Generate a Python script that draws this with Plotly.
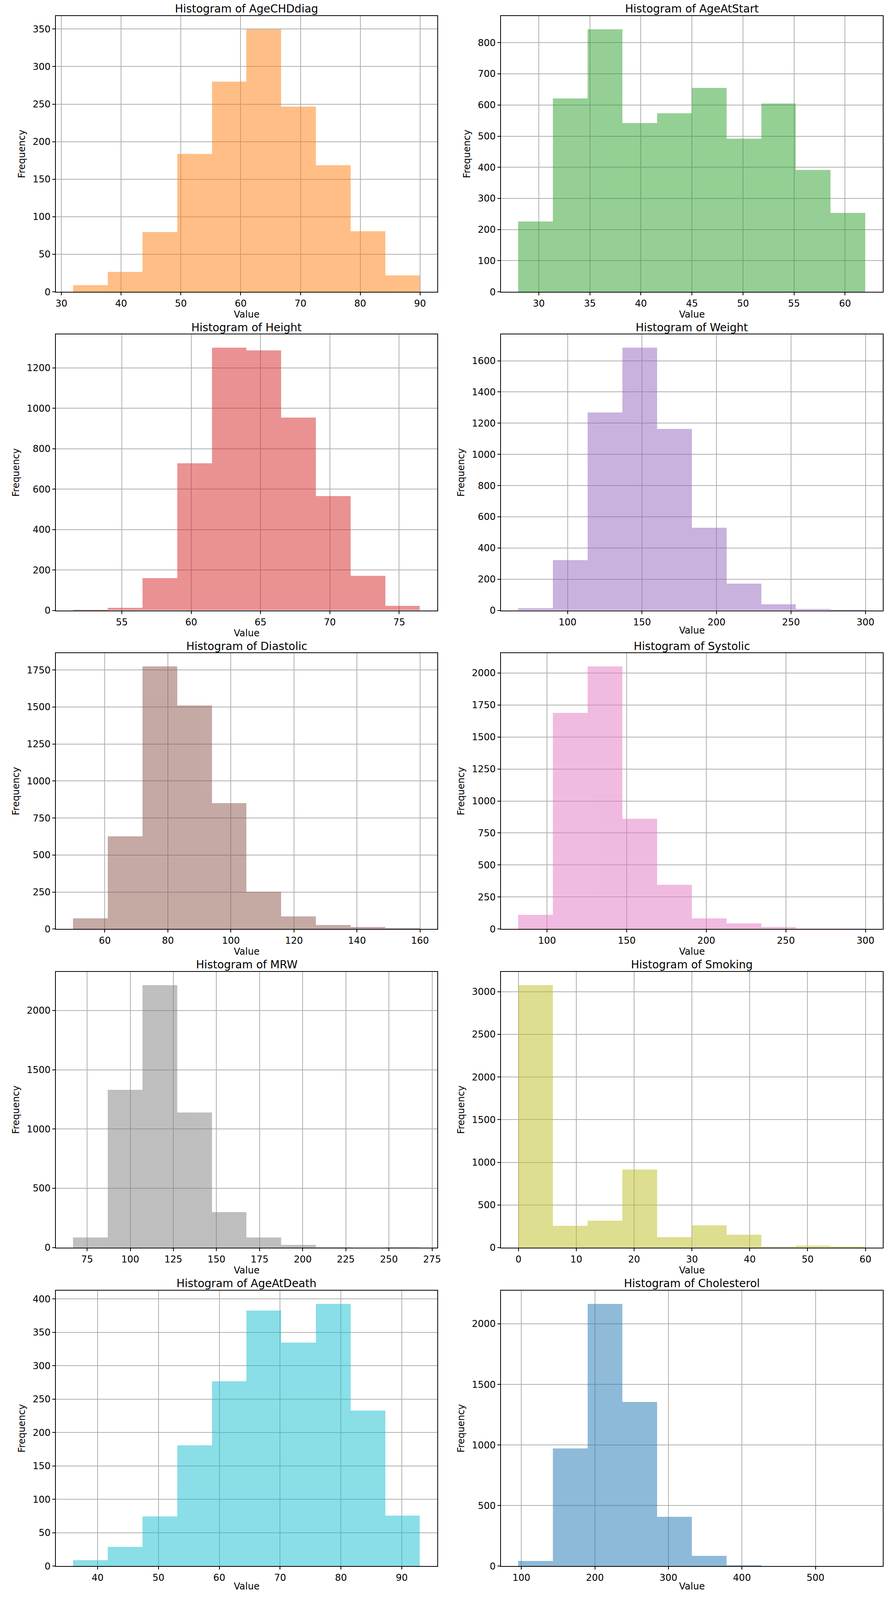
import numpy as np
import plotly.graph_objects as go
from plotly.subplots import make_subplots

# variables in plotting order (row by row, left then right)
names = ["AgeCHDdiag", "AgeAtStart", "Height", "Weight", "Diastolic",
         "Systolic", "MRW", "Smoking", "AgeAtDeath", "Cholesterol"]

# min / max of each column (10 equal bins between them)
bin_lo = [32, 28, 51.5, 67, 50, 82, 67, 0, 36, 96]
bin_hi = [90, 62, 76.5, 300, 160, 300, 268, 60, 93, 568]

# counts
counts = {
    "AgeCHDdiag": [9, 27, 80, 184, 280, 350, 247, 169, 81, 22],
    "AgeAtStart": [227, 622, 844, 542, 574, 656, 492, 605, 392, 254],
    "Height": [2, 13, 159, 727, 1300, 1286, 954, 565, 170, 22],
    "Weight": [14, 321, 1268, 1684, 1163, 530, 172, 39, 9, 2],
    "Diastolic": [71, 626, 1775, 1510, 851, 251, 85, 27, 14, 5],
    "Systolic": [112, 1687, 2052, 862, 344, 82, 42, 16, 4, 2],
    "MRW": [85, 1330, 2215, 1140, 300, 85, 22, 3, 0, 1],
    "Smoking": [3080, 255, 318, 918, 125, 262, 150, 10, 22, 12],
    "AgeAtDeath": [9, 29, 75, 181, 277, 383, 335, 393, 233, 76],
    "Cholesterol": [43, 972, 2167, 1355, 410, 85, 10, 0, 0, 1],
}

# tick steps per panel
x_dtick = [10, 5, 5, 50, 20, 50, 25, 10, 10, 100]
y_dtick = [50, 100, 200, 200, 250, 250, 500, 500, 50, 500]

# matplotlib tab10 order used by the figure
colors = ["#ff7f0e", "#2ca02c", "#d62728", "#9467bd", "#8c564b",
          "#e377c2", "#7f7f7f", "#bcbd22", "#17becf", "#1f77b4"]

# reference canvas, used only to turn the panel boxes into paper fractions
W, H = 2282, 5736
FONT = "DejaVu Sans"

fig = make_subplots(rows=5, cols=2)

col_x = [(143, 1124), (1288, 2270)]
for i, name in enumerate(names):
    r, c = i // 2, i % 2
    edges = np.linspace(bin_lo[i], bin_hi[i], 11)
    centers = (edges[:-1] + edges[1:]) / 2
    width = edges[1] - edges[0]
    fig.add_trace(
        go.Bar(x=centers, y=counts[name], width=width,
               marker=dict(color=colors[i], line_width=0), opacity=0.5,
               showlegend=False, hoverinfo="x+y"),
        row=r + 1, col=c + 1,
    )
    span = bin_hi[i] - bin_lo[i]
    top = 57 + r * 1146.3
    bot = 1050 + r * 1146
    x0, x1 = col_x[c]
    ax_style = dict(showline=True, linecolor="black", linewidth=2, mirror=True,
                    ticks="outside", ticklen=7, tickwidth=2, tickcolor="black",
                    showgrid=True, gridcolor="#b0b0b0", gridwidth=2,
                    zeroline=False, tickfont=dict(family=FONT, size=24, color="black"))
    fig.update_xaxes(domain=[x0 / W, x1 / W],
                     range=[bin_lo[i] - 0.05 * span, bin_hi[i] + 0.05 * span],
                     dtick=x_dtick[i], tick0=0,
                     title=dict(text="Value", standoff=0,
                                font=dict(family=FONT, size=24, color="black")),
                     row=r + 1, col=c + 1, **ax_style)
    fig.update_yaxes(domain=[1 - bot / H, 1 - top / H],
                     range=[0, max(counts[name]) * 1.05],
                     dtick=y_dtick[i], tick0=0,
                     title=dict(text="Frequency", standoff=12,
                                font=dict(family=FONT, size=24, color="black")),
                     row=r + 1, col=c + 1, **ax_style)
    fig.add_annotation(x=(x0 + x1) / 2 / W, y=1 - top / H, xref="paper", yref="paper",
                       text=f"Histogram of {name}", showarrow=False,
                       xanchor="center", yanchor="middle", yshift=18,
                       font=dict(family=FONT, size=28, color="black"))

fig.update_layout(
    autosize=True,
    margin=dict(l=0, r=0, t=0, b=0),
    plot_bgcolor="white", paper_bgcolor="white",
    font=dict(family=FONT, color="black"),
    bargap=0,
)
fig.write_html("out.html", config={"displayModeBar": False},
               default_width="100vw", default_height="100vh",
               post_script="document.body.style.margin='0';")
